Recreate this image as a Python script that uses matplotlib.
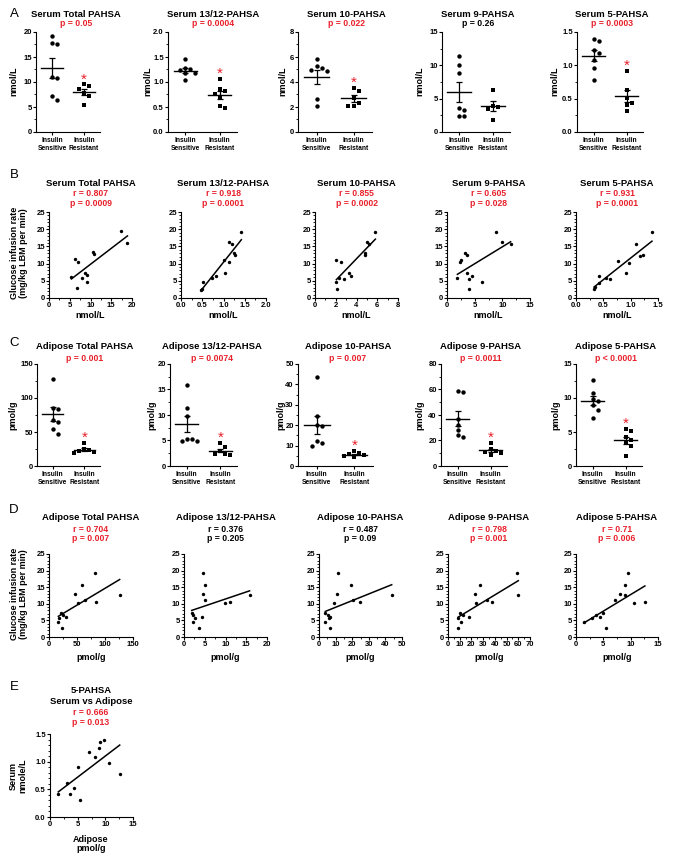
import numpy as np
import matplotlib
matplotlib.use('Agg')
import matplotlib.pyplot as plt
from matplotlib.ticker import MultipleLocator, AutoMinorLocator

# ---- data ----
# row A: serum PAHSA, insulin sensitive vs resistant (nmol/L)
serum_total_sens = [19.1, 17.8, 17.5, 10.9, 10.7, 7.1, 6.3]
serum_total_res = [9.5, 9.1, 8.6, 7.8, 7.1, 5.4]
serum_1312_sens = [1.45, 1.28, 1.25, 1.23, 1.18, 1.17, 1.03]
serum_1312_res = [1.06, 0.85, 0.81, 0.76, 0.69, 0.51, 0.47]
serum_10_sens = [5.8, 5.25, 5.1, 4.95, 4.9, 2.6, 2.1]
serum_10_res = [3.55, 3.3, 2.75, 2.35, 2.1, 2.05]
serum_9_sens = [11.45, 10.0, 8.8, 3.6, 3.25, 2.45, 2.35]
serum_9_res = [6.35, 3.95, 3.75, 3.5, 1.85]
serum_5_sens = [1.4, 1.37, 1.23, 1.18, 1.08, 0.96, 0.78]
serum_5_res = [0.91, 0.63, 0.51, 0.44, 0.41, 0.32]

# row C: adipose PAHSA (pmol/g)
adip_total_sens = [127.8, 85.8, 84.4, 67.6, 65.1, 53.8, 46.9]
adip_total_res = [33.5, 25, 24, 22, 20.5, 19]
adip_1312_sens = [15.8, 11.3, 9.9, 5.26, 5.2, 4.93, 4.93]
adip_1312_res = [4.47, 3.75, 2.96, 2.43, 2.3, 2.24]
adip_10_sens = [43.8, 24.5, 20.2, 19.8, 12.1, 11.3, 9.7]
adip_10_res = [7.2, 6.3, 5.8, 5.3, 4.8, 4.2]
adip_9_sens = [58.9, 57.9, 37, 32, 28, 24, 22.5]
adip_9_res = [17.8, 13.5, 12, 11, 10, 9]
adip_5_sens = [12.6, 10.7, 9.8, 9.5, 9.0, 8.3, 7.1]
adip_5_res = [5.4, 5.2, 4.3, 3.8, 3.5, 3.0, 1.4]

# row B: glucose infusion rate vs serum PAHSA
b_total_x = [17.3, 18.9, 10.7, 10.9, 6.2, 7.1, 8.6, 9.2, 7.9, 5.4, 9.2, 6.8]
b_total_y = [19.4, 15.9, 13.3, 12.8, 11.2, 10.5, 7.2, 6.6, 5.7, 6.0, 4.6, 2.8]
b_1312_x = [1.42, 1.14, 1.21, 1.24, 1.26, 1.02, 1.12, 1.04, 0.83, 0.74, 0.51, 0.49, 0.47]
b_1312_y = [19.1, 16.3, 15.6, 13.1, 12.6, 11.1, 10.4, 7.2, 6.5, 5.9, 4.6, 2.7, 2.3]
b_10_x = [5.82, 5.05, 5.18, 4.85, 4.85, 2.06, 2.54, 3.25, 3.5, 2.77, 2.06, 2.12, 2.3]
b_10_y = [19.1, 16.3, 15.6, 13.1, 12.6, 11.1, 10.4, 7.2, 6.5, 5.6, 4.6, 2.7, 5.9]
b_9_x = [8.77, 9.98, 11.5, 3.33, 3.63, 2.48, 2.42, 3.57, 4.54, 1.88, 3.93, 6.35, 3.93]
b_9_y = [19.1, 16.3, 15.6, 13.1, 12.6, 11.1, 10.4, 7.2, 6.5, 5.9, 5.6, 4.6, 2.7]
b_5_x = [1.39, 1.09, 1.23, 1.17, 0.77, 0.97, 0.91, 0.42, 0.54, 0.62, 0.42, 0.33, 0.35]
b_5_y = [19.1, 15.6, 12.6, 12.1, 10.9, 10.2, 7.2, 6.5, 5.8, 5.5, 4.5, 2.7, 3.2]

# row D: glucose infusion rate vs adipose PAHSA (same subjects in every panel)
gir_d = [19.15, 15.6, 13.1, 12.6, 11.1, 10.4, 10.1, 7.2, 6.6, 6.0, 5.6, 4.6, 2.7]
d_total_x = [82.7, 58.9, 45.8, 126.2, 63.7, 84.5, 52.4, 20.8, 25, 31, 17.9, 16.7, 23.8]
d_1312_x = [4.68, 5.08, 4.68, 15.8, 5.0, 11.1, 9.9, 1.85, 2.1, 4.27, 2.66, 2.1, 3.7]
d_10_x = [11.5, 19.3, 10.8, 43.8, 20.2, 24.4, 9.3, 3.8, 5.5, 6.5, 5.9, 3.8, 6.9]
d_9_x = [58.6, 27.1, 22.9, 60, 32.9, 37.7, 24.3, 10, 12.9, 17.7, 8.6, 11.4, 8.6]
d_5_x = [9.6, 9.0, 8.05, 9.0, 7.1, 12.6, 10.6, 5.0, 3.6, 4.3, 2.9, 1.4, 5.4]

# row E: 5-PAHSA serum vs adipose
e_adip = [9.7, 9.0, 8.9, 7.1, 8.1, 10.6, 5.1, 12.6, 3.0, 4.3, 3.6, 1.5, 5.4]
e_serum = [1.40, 1.36, 1.24, 1.18, 1.09, 0.97, 0.90, 0.77, 0.62, 0.52, 0.42, 0.41, 0.31]

W, H = 674, 863
RED = '#e8202a'

plt.rcParams['font.family'] = ['Liberation Sans', 'DejaVu Sans']
plt.rcParams['font.weight'] = 'bold'
plt.rcParams['axes.linewidth'] = 0.8


def px_axes(fig, x0, x1, y0, y1):
    return fig.add_axes([x0 / W, 1 - y1 / H, (x1 - x0) / W, (y1 - y0) / H])


def ftext(fig, x, y, s, **kw):
    kw.setdefault('ha', 'center')
    kw.setdefault('va', 'center')
    kw.setdefault('fontweight', 'bold')
    fig.text(x / W, 1 - y / H, s, **kw)


def style_axes(ax):
    ax.spines['top'].set_visible(False)
    ax.spines['right'].set_visible(False)
    ax.tick_params(direction='out', length=2.2, width=0.8, labelsize=5.5, pad=0.8)
    ax.tick_params(which='minor', direction='out', length=1.4, width=0.6)


def swarm_offsets(vals, ax_w, ax_h, ymax, d=4.4):
    # simple beeswarm in pixel space so dots do not overlap
    px_x = ax_w / 2.0
    px_y = ax_h / ymax
    step = d * 1.15
    offs = np.zeros(len(vals))
    placed = []
    for i in np.argsort(vals)[::-1]:
        yp = vals[i] * px_y
        for k in [0, 1, -1, 2, -2, 3, -3, 4, -4]:
            xp = k * step
            if all((xp - a) ** 2 + (yp - b) ** 2 >= step ** 2 for a, b in placed):
                break
        placed.append((xp, yp))
        offs[i] = xp / px_x
    return offs


def column_panel(fig, box, sens, res, ymax, ystep, fmt, star=True):
    x0, x1, y0, y1 = box
    ax = px_axes(fig, x0, x1, y0, y1)
    style_axes(ax)
    sens = np.array(sens)
    res = np.array(res)
    ax.scatter(swarm_offsets(sens, x1 - x0, y1 - y0, ymax), sens, marker='o', s=10,
               color='black', linewidths=0, clip_on=False, zorder=3)
    ax.scatter(1 + swarm_offsets(res, x1 - x0, y1 - y0, ymax), res, marker='s', s=8,
               color='black', linewidths=0, clip_on=False, zorder=3)
    for i, v in enumerate([sens, res]):
        m = v.mean()
        sem = v.std(ddof=1) / np.sqrt(len(v))
        ax.plot([i - 0.34, i + 0.34], [m, m], color='black', lw=1.0, zorder=4)
        ax.errorbar(i, m, yerr=sem, color='black', lw=0.9, capsize=2.4, capthick=0.9, zorder=4)
    if star:
        ax.annotate('*', (1, res.max()), xytext=(0, 0.8), textcoords='offset points',
                    ha='center', va='baseline', color=RED, fontsize=11, fontweight='normal')
    ax.set_xlim(-0.5, 1.5)
    ax.set_ylim(0, ymax)
    ax.yaxis.set_major_locator(MultipleLocator(ystep))
    ax.yaxis.set_minor_locator(AutoMinorLocator(2))
    ax.yaxis.set_major_formatter(fmt)
    ax.set_xticks([0, 1])
    ax.set_xticklabels(['Insulin\nSensitive', 'Insulin\nResistant'], fontsize=4.8, linespacing=1.15)
    ax.tick_params(axis='x', length=2, pad=1.5)
    return ax


def corr_panel(fig, box, x, y, xmax, xstep, ymax, ystep, xfmt, yfmt):
    x0, x1, y0, y1 = box
    ax = px_axes(fig, x0, x1, y0, y1)
    style_axes(ax)
    x = np.array(x)
    y = np.array(y)
    ax.scatter(x, y, s=6, color='black', linewidths=0, clip_on=False, zorder=3)
    slope, icpt = np.polyfit(x, y, 1)
    xs = np.array([x.min(), x.max()])
    ax.plot(xs, slope * xs + icpt, color='black', lw=1.1)
    ax.set_xlim(0, xmax)
    ax.set_ylim(0, ymax)
    ax.xaxis.set_major_locator(MultipleLocator(xstep))
    ax.yaxis.set_major_locator(MultipleLocator(ystep))
    ax.xaxis.set_minor_locator(AutoMinorLocator(2))
    ax.yaxis.set_minor_locator(AutoMinorLocator(5))
    ax.xaxis.set_major_formatter(xfmt)
    ax.yaxis.set_major_formatter(yfmt)
    return ax


def main():
    fig = plt.figure(figsize=(W / 100, H / 100), dpi=100)

    f0 = '{x:.0f}'
    f1 = '{x:.1f}'

    # ---------- A ----------
    a_boxes = [(36, 100), (168, 237), (298, 372), (442, 510), (577, 643)]
    a_data = [(serum_total_sens, serum_total_res, 20, 5, f0),
              (serum_1312_sens, serum_1312_res, 2.0, 0.5, f1),
              (serum_10_sens, serum_10_res, 8, 2, f0),
              (serum_9_sens, serum_9_res, 15, 5, f0),
              (serum_5_sens, serum_5_res, 1.5, 0.5, f1)]
    a_titles = ['Serum Total PAHSA', 'Serum 13/12-PAHSA', 'Serum 10-PAHSA',
                'Serum 9-PAHSA', 'Serum 5-PAHSA']
    a_p = ['p = 0.05', 'p = 0.0004', 'p = 0.022', 'p = 0.26', 'p = 0.0003']
    a_pcol = [RED, RED, RED, 'black', RED]
    a_cx = [76, 213, 346, 478, 612]
    a_ylx = [13.5, 148, 283, 420, 555]
    for i in range(5):
        sens, res, ymax, ystep, fmt = a_data[i]
        column_panel(fig, (a_boxes[i][0], a_boxes[i][1], 32, 132), sens, res, ymax, ystep, fmt,
                     star=(a_pcol[i] == RED))
        ftext(fig, a_cx[i], 14.3, a_titles[i], fontsize=6.8)
        ftext(fig, a_cx[i], 23.3, a_p[i], fontsize=6.2, color=a_pcol[i])
        ftext(fig, a_ylx[i], 81, 'nmol/L', fontsize=6.5, rotation=90)

    # ---------- B ----------
    b_boxes = [(49, 132), (181, 266), (315, 398), (447, 530), (576, 658)]
    b_data = [(b_total_x, b_total_y, 20, 5, f0), (b_1312_x, b_1312_y, 2.0, 0.5, f1),
              (b_10_x, b_10_y, 8, 2, f0), (b_9_x, b_9_y, 15, 5, f0),
              (b_5_x, b_5_y, 1.5, 0.5, f1)]
    b_r = ['r = 0.807', 'r = 0.918', 'r = 0.855', 'r = 0.605', 'r = 0.931']
    b_p = ['p = 0.0009', 'p = 0.0001', 'p = 0.0002', 'p = 0.028', 'p = 0.0001']
    for i in range(5):
        x, y, xmax, xstep, fmt = b_data[i]
        bx = b_boxes[i]
        corr_panel(fig, (bx[0], bx[1], 212, 298), x, y, xmax, xstep, 25, 5, fmt, f0)
        cx = (bx[0] + bx[1]) / 2
        ftext(fig, cx, 184, a_titles[i], fontsize=6.8)
        ftext(fig, cx, 193.5, b_r[i], fontsize=6.2, color=RED)
        ftext(fig, cx, 203, b_p[i], fontsize=6.2, color=RED)
        ftext(fig, cx, 315.5, 'nmol/L', fontsize=6.5)
    ftext(fig, 19, 253, 'Glucose infusion rate\n(mg/kg LBM per min)', fontsize=6.5,
          rotation=90, linespacing=1.05)

    # ---------- C ----------
    c_boxes = [(37, 100), (170, 237), (298, 373), (441, 507), (576, 642)]
    c_data = [(adip_total_sens, adip_total_res, 150, 50, f0),
              (adip_1312_sens, adip_1312_res, 20, 5, f0),
              (adip_10_sens, adip_10_res, 50, 10, f0),
              (adip_9_sens, adip_9_res, 80, 20, f0),
              (adip_5_sens, adip_5_res, 15, 5, f0)]
    c_titles = ['Adipose Total PAHSA', 'Adipose 13/12-PAHSA', 'Adipose 10-PAHSA',
                'Adipose 9-PAHSA', 'Adipose 5-PAHSA']
    c_p = ['p = 0.001', 'p = 0.0074', 'p = 0.007', 'p = 0.0011', 'p < 0.0001']
    c_cx = [85, 212, 348, 481, 616]
    c_ylx = [13, 152, 281, 420, 556]
    for i in range(5):
        sens, res, ymax, ystep, fmt = c_data[i]
        column_panel(fig, (c_boxes[i][0], c_boxes[i][1], 364, 466), sens, res, ymax, ystep, fmt)
        ftext(fig, c_cx[i], 346.7, c_titles[i], fontsize=6.8)
        ftext(fig, c_cx[i], 358.3, c_p[i], fontsize=6.2, color=RED)
        ftext(fig, c_ylx[i], 415, 'pmol/g', fontsize=6.5, rotation=90)

    # ---------- D ----------
    d_boxes = [(49, 133), (184, 267), (319, 402), (448, 530), (576, 658)]
    d_data = [(d_total_x, 150, 50), (d_1312_x, 20, 5), (d_10_x, 50, 10),
              (d_9_x, 70, 10), (d_5_x, 15, 5)]
    d_r = ['r = 0.704', 'r = 0.376', 'r = 0.487', 'r = 0.798', 'r = 0.71']
    d_p = ['p = 0.007', 'p = 0.205', 'p = 0.09', 'p = 0.001', 'p = 0.006']
    d_col = [RED, 'black', 'black', RED, RED]
    for i in range(5):
        x, xmax, xstep = d_data[i]
        bx = d_boxes[i]
        corr_panel(fig, (bx[0], bx[1], 554, 637), x, gir_d, xmax, xstep, 25, 5, f0, f0)
        cx = (bx[0] + bx[1]) / 2
        ftext(fig, cx, 517.7, c_titles[i], fontsize=6.8)
        ftext(fig, cx, 529, d_r[i], fontsize=6.2, color=d_col[i])
        ftext(fig, cx, 538.3, d_p[i], fontsize=6.2, color=d_col[i])
        ftext(fig, cx, 658, 'pmol/g', fontsize=6.5)
    ftext(fig, 19, 594, 'Glucose infusion rate\n(mg/kg LBM per min)', fontsize=6.5,
          rotation=90, linespacing=1.05)

    # ---------- E ----------
    corr_panel(fig, (50, 133, 734, 817), e_adip, e_serum, 15, 5, 1.5, 0.5, f0, f1)
    ftext(fig, 91, 690, '5-PAHSA', fontsize=6.8)
    ftext(fig, 91, 701.7, 'Serum vs Adipose', fontsize=6.8)
    ftext(fig, 91, 712.3, 'r = 0.666', fontsize=6.2, color=RED)
    ftext(fig, 91, 722.7, 'p = 0.013', fontsize=6.2, color=RED)
    ftext(fig, 91, 839, 'Adipose', fontsize=6.5)
    ftext(fig, 91, 848.5, 'pmol/g', fontsize=6.5)
    ftext(fig, 18, 776, 'Serum\nnmole/L', fontsize=6.5, rotation=90, linespacing=1.05)

    # panel letters
    for letter, ly in zip('ABCDE', [14, 175, 343, 510, 687]):
        ftext(fig, 14, ly, letter, fontsize=9.5, fontweight='normal')

    fig.savefig('out.png', dpi=100)


if __name__ == "__main__":
    main()
